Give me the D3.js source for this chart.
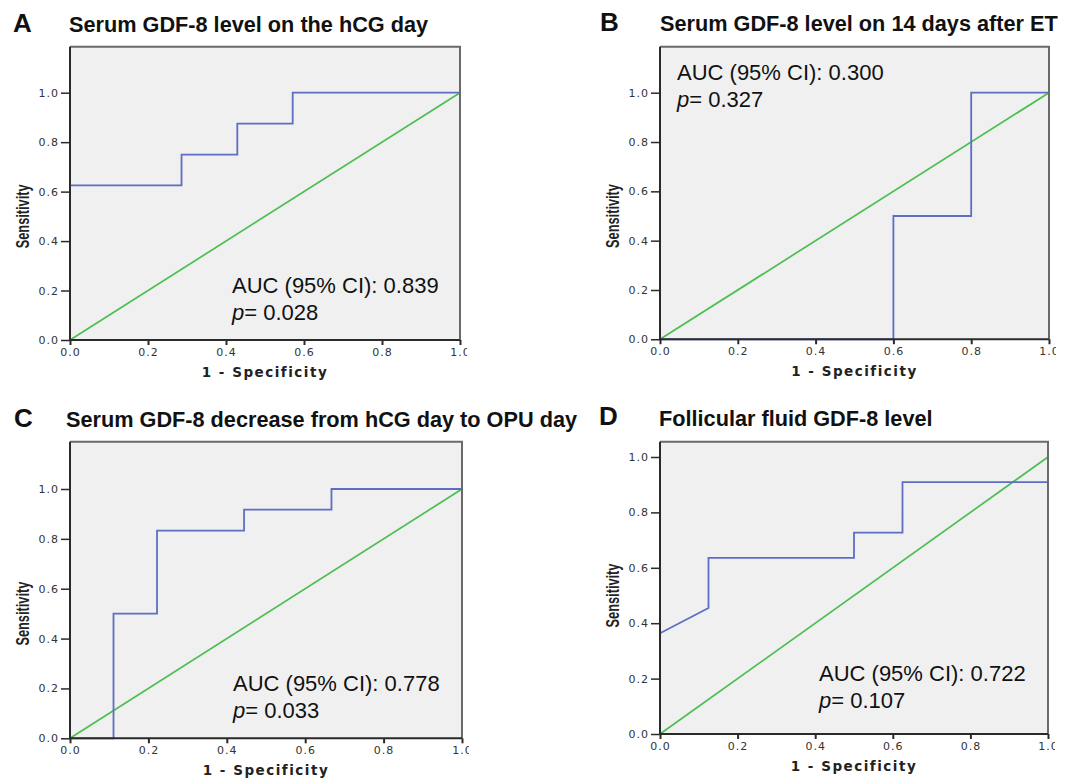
<!DOCTYPE html>
<html>
<head>
<meta charset="utf-8">
<script src="https://cdn.jsdelivr.net/npm/d3@7"></script>
<style>
  html, body { margin: 0; padding: 0; background: #ffffff; }
  svg { display: block; }
</style>
</head>
<body>
<svg id="chart" width="1072" height="780"></svg>
<script>
// ---------------- DATA ----------------
const panelLetters = ["A", "B", "C", "D"];
const panelTitles = [
  "Serum GDF-8 level on the hCG day",
  "Serum GDF-8 level on 14 days after ET",
  "Serum GDF-8 decrease from hCG day to OPU day",
  "Follicular fluid GDF-8 level"
];
// ROC curves: 1 - specificity (x) and sensitivity (y)
const rocA_x = [0, 0,     0.286, 0.286, 0.429, 0.429, 0.571, 0.571, 1.0];
const rocA_y = [0, 0.625, 0.625, 0.75,  0.75,  0.875, 0.875, 1.0,   1.0];
const rocB_x = [0, 0.6, 0.6, 0.8, 0.8, 1.0];
const rocB_y = [0, 0,   0.5, 0.5, 1.0, 1.0];
const rocC_x = [0, 0.111, 0.111, 0.222, 0.222, 0.444, 0.444, 0.667, 0.667, 1.0];
const rocC_y = [0, 0,     0.5,   0.5,   0.833, 0.833, 0.917, 0.917, 1.0,   1.0];
const rocD_x = [0, 0,     0.125, 0.125, 0.5,   0.5,   0.625, 0.625, 1.0,   1.0];
const rocD_y = [0, 0.364, 0.455, 0.636, 0.636, 0.727, 0.727, 0.909, 0.909, 1.0];
const refLine = [0, 1];
const aucTexts = ["AUC (95% CI): 0.839", "AUC (95% CI): 0.300", "AUC (95% CI): 0.778", "AUC (95% CI): 0.722"];
const pTexts = ["= 0.028", "= 0.327", "= 0.033", "= 0.107"];
const tickValues = [0, 0.2, 0.4, 0.6, 0.8, 1.0];
const tickLabels = ["0.0", "0.2", "0.4", "0.6", "0.8", "1.0"];
const xAxisTitle = "1 - Specificity";
const yAxisTitle = "Sensitivity";

// ---------------- LAYOUT ----------------
const rocX = [rocA_x, rocB_x, rocC_x, rocD_x];
const rocY = [rocA_y, rocB_y, rocC_y, rocD_y];
const layout = [
  { x0: 70,  x1: 460,  yb: 340,   y1: 92.7, top: 46.7,  tx: 232, ty: 293, lx: 13,  ly: 32,  tlx: 69,  tly: 32 },
  { x0: 660, x1: 1049, yb: 339.3, y1: 92.7, top: 46.7,  tx: 677, ty: 80,  lx: 600, ly: 31,  tlx: 660, tly: 31 },
  { x0: 70,  x1: 462,  yb: 738.3, y1: 489,  top: 441.7, tx: 233, ty: 691, lx: 14,  ly: 427, tlx: 66,  tly: 427 },
  { x0: 660, x1: 1048, yb: 734,   y1: 457,  top: 441.7, tx: 819, ty: 681, lx: 599, ly: 425, tlx: 659, tly: 426 }
];

const svg = d3.select("#chart");
const defs = svg.append("defs");

layout.forEach((L, i) => {
  const x = d3.scaleLinear().domain([0, 1]).range([L.x0, L.x1]);
  const y = d3.scaleLinear().domain([0, 1]).range([L.yb, L.y1]);

  const clipId = "clip" + i;
  defs.append("clipPath").attr("id", clipId)
    .append("rect").attr("x", L.x0 - 70).attr("y", L.top - 60)
    .attr("width", (L.x1 + 7) - (L.x0 - 70)).attr("height", 420);

  const g = svg.append("g").attr("clip-path", `url(#${clipId})`);

  // Panel letter and title
  svg.append("text").attr("x", L.lx).attr("y", L.ly)
    .attr("font-family", "Liberation Sans, Arial, sans-serif")
    .attr("font-weight", "bold").attr("font-size", 26).attr("fill", "#111")
    .text(panelLetters[i]);
  svg.append("text").attr("x", L.tlx).attr("y", L.tly)
    .attr("font-family", "Liberation Sans, Arial, sans-serif")
    .attr("font-weight", "bold").attr("font-size", 21.7).attr("fill", "#111")
    .text(panelTitles[i]);

  // plot background
  g.append("rect").attr("x", L.x0).attr("y", L.top)
    .attr("width", L.x1 - L.x0).attr("height", L.yb - L.top)
    .attr("fill", "#f0f0f0");

  // reference diagonal
  const line = d3.line().x(d => x(d[0])).y(d => y(d[1]));
  g.append("path").datum(refLine.map(v => [v, v]))
    .attr("d", line).attr("fill", "none")
    .attr("stroke", "#4cbf52").attr("stroke-width", 1.7);

  // ROC curve
  const pts = rocX[i].map((v, k) => [v, rocY[i][k]]);
  g.append("path").datum(pts)
    .attr("d", line).attr("fill", "none")
    .attr("stroke", "#5d6ec4").attr("stroke-width", 1.8);

  // frame: top and right grey
  g.append("path")
    .attr("d", `M${L.x0},${L.top}H${L.x1}V${L.yb}`)
    .attr("fill", "none").attr("stroke", "#6a6a6a").attr("stroke-width", 2);

  // Axes
  const xAxis = d3.axisBottom(x).tickValues(tickValues)
    .tickFormat((d, k) => tickLabels[k]).tickSize(5).tickPadding(3);
  const yAxis = d3.axisLeft(y).tickValues(tickValues)
    .tickFormat((d, k) => tickLabels[k]).tickSize(9).tickPadding(2);

  const gx = g.append("g").attr("transform", `translate(0,${L.yb})`).call(xAxis);
  gx.select(".domain").attr("d", `M${L.x0},0H${L.x1}`).attr("stroke", "#2a2a2a").attr("stroke-width", 2);
  gx.selectAll(".tick line").attr("stroke", "#2a2a2a").attr("stroke-width", 2);
  gx.selectAll(".tick text")
    .attr("font-family", "DejaVu Sans, Verdana, sans-serif").attr("font-size", 11)
    .attr("letter-spacing", 1).attr("fill", "#333");

  const gy = g.append("g").attr("transform", `translate(${L.x0},0)`).call(yAxis);
  gy.select(".domain").attr("d", `M0,${L.yb}V${L.top}`).attr("stroke", "#2a2a2a").attr("stroke-width", 2);
  gy.selectAll(".tick line").attr("stroke", "#2a2a2a").attr("stroke-width", 1.5);
  gy.selectAll(".tick text")
    .attr("font-family", "DejaVu Sans, Verdana, sans-serif").attr("font-size", 11)
    .attr("letter-spacing", 1).attr("fill", "#333");

  // axis titles
  svg.append("text").attr("x", (L.x0 + L.x1) / 2).attr("y", L.yb + 37)
    .attr("text-anchor", "middle")
    .attr("font-family", "DejaVu Sans, Verdana, sans-serif")
    .attr("font-weight", "bold").attr("font-size", 13.5).attr("letter-spacing", 1.5)
    .attr("fill", "#222").text(xAxisTitle);
  svg.append("text")
    .attr("transform", `translate(${L.x0 - 41},${(L.yb + L.y1) / 2}) rotate(-90) scale(0.8,1.15)`)
    .attr("text-anchor", "middle")
    .attr("font-family", "Liberation Sans, Arial, sans-serif")
    .attr("font-weight", "bold").attr("font-size", 16)
    .attr("fill", "#222").text(yAxisTitle);

  // AUC annotation
  svg.append("text").attr("x", L.tx).attr("y", L.ty)
    .attr("font-family", "Liberation Sans, Arial, sans-serif")
    .attr("font-size", 22).attr("fill", "#111").text(aucTexts[i]);
  const pt = svg.append("text").attr("x", L.tx).attr("y", L.ty + 27)
    .attr("font-family", "Liberation Sans, Arial, sans-serif")
    .attr("font-size", 22).attr("fill", "#111");
  pt.append("tspan").attr("font-style", "italic").text("p");
  pt.append("tspan").text(pTexts[i]);
});
</script>
</body>
</html>
